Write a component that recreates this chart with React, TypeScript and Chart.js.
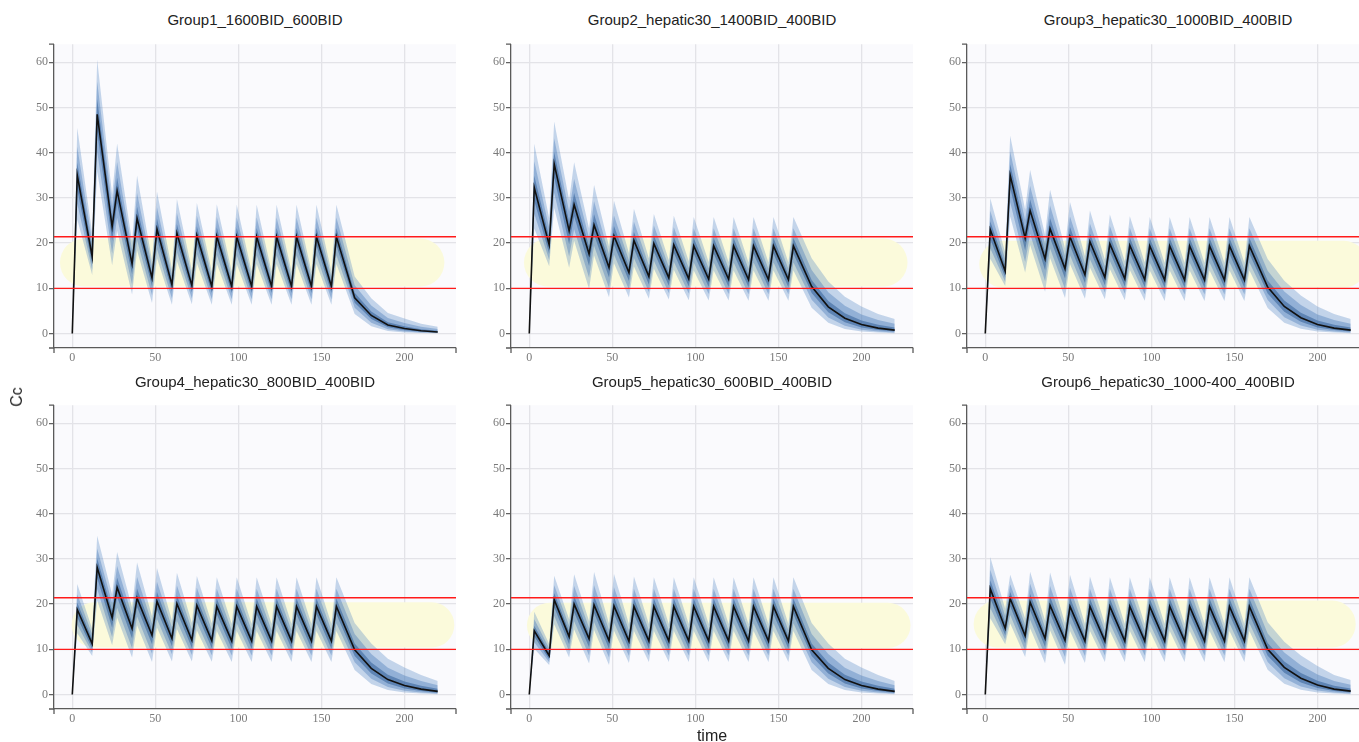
import React, { useEffect, useRef } from "react";
import { Chart, registerables } from "chart.js";

Chart.register(...registerables);

// ---------- data ----------
const TITLES = [
  "Group1_1600BID_600BID",
  "Group2_hepatic30_1400BID_400BID",
  "Group3_hepatic30_1000BID_400BID",
  "Group4_hepatic30_800BID_400BID",
  "Group5_hepatic30_600BID_400BID",
  "Group6_hepatic30_1000-400_400BID",
];

const TIMES = [0, 3, 12, 15, 24, 27, 36, 39, 48, 51, 60, 63, 72, 75, 84, 87, 96, 99, 108, 111, 120, 123, 132, 135, 144, 147, 156, 159, 170, 180, 190, 200, 210, 220];

const MEDIAN_G1 = [0, 35.0, 17.0, 48.5, 23.6, 31.6, 15.4, 25.5, 12.3, 23.1, 10.8, 22.2, 10.6, 21.7, 10.4, 21.5, 10.4, 21.4, 10.4, 21.4, 10.4, 21.4, 10.4, 21.4, 10.4, 21.4, 10.4, 21.4, 7.9, 4.0, 1.9, 1.1, 0.6, 0.35];
const MEDIAN_G2 = [0, 32.3, 19.6, 37.5, 22.7, 28.5, 17.6, 24.0, 14.6, 21.6, 13.5, 20.6, 12.6, 19.9, 12.3, 19.6, 12.1, 19.4, 12.0, 19.4, 12.0, 19.4, 11.9, 19.4, 11.9, 19.4, 11.9, 19.4, 10.4, 5.9, 3.4, 2.0, 1.2, 0.75];
const MEDIAN_G3 = [0, 23.0, 13.8, 35.0, 21.1, 27.2, 16.5, 23.2, 14.3, 21.4, 13.0, 20.3, 12.4, 19.8, 12.1, 19.5, 11.9, 19.4, 11.8, 19.4, 11.8, 19.4, 11.8, 19.4, 11.8, 19.4, 11.8, 19.4, 10.3, 6.0, 3.5, 2.0, 1.2, 0.75];
const MEDIAN_G4 = [0, 18.8, 11.2, 28.1, 17.0, 23.7, 14.6, 21.3, 13.1, 20.6, 12.4, 20.1, 12.0, 19.7, 11.9, 19.5, 11.8, 19.5, 11.8, 19.5, 11.8, 19.5, 11.8, 19.5, 11.8, 19.5, 11.8, 19.5, 9.9, 5.8, 3.3, 2.0, 1.2, 0.7];
const MEDIAN_G5 = [0, 14.1, 8.6, 21.0, 12.8, 20.0, 12.3, 19.8, 11.9, 19.6, 11.8, 19.5, 11.8, 19.5, 11.8, 19.5, 11.8, 19.5, 11.8, 19.5, 11.8, 19.5, 11.8, 19.5, 11.8, 19.5, 11.8, 19.5, 9.9, 5.8, 3.3, 2.0, 1.2, 0.7];
const MEDIAN_G6 = [0, 23.4, 14.6, 21.2, 13.0, 20.4, 12.4, 19.7, 12.0, 19.5, 11.8, 19.5, 11.8, 19.5, 11.8, 19.5, 11.8, 19.5, 11.8, 19.5, 11.8, 19.5, 11.8, 19.5, 11.8, 19.5, 11.8, 19.5, 10.0, 6.0, 3.6, 2.1, 1.2, 0.75];

// prediction-interval bounds relative to the median
const OUTER_HI = [1, 1.30, 1.3, 1.25, 1.3, 1.33, 1.32, 1.37, 1.32, 1.36, 1.32, 1.34, 1.32, 1.33, 1.32, 1.33, 1.32, 1.33, 1.32, 1.33, 1.32, 1.33, 1.32, 1.33, 1.32, 1.33, 1.32, 1.33, 1.6, 1.95, 2.4, 3.0, 3.6, 4.3];
const MID_HI = [1, 1.18, 1.19, 1.15, 1.19, 1.2, 1.2, 1.22, 1.2, 1.21, 1.2, 1.2, 1.2, 1.2, 1.2, 1.2, 1.2, 1.2, 1.2, 1.2, 1.2, 1.2, 1.2, 1.2, 1.2, 1.2, 1.2, 1.2, 1.35, 1.55, 1.8, 2.1, 2.5, 2.9];
const INNER_HI = [1, 1.08, 1.09, 1.07, 1.09, 1.09, 1.09, 1.1, 1.09, 1.1, 1.09, 1.09, 1.09, 1.09, 1.09, 1.09, 1.09, 1.09, 1.09, 1.09, 1.09, 1.09, 1.09, 1.09, 1.09, 1.09, 1.09, 1.09, 1.14, 1.22, 1.32, 1.45, 1.6, 1.8];
const INNER_LO = [1, 0.91, 0.9, 0.92, 0.87, 0.91, 0.85, 0.91, 0.85, 0.91, 0.86, 0.91, 0.86, 0.91, 0.86, 0.91, 0.86, 0.91, 0.86, 0.91, 0.86, 0.91, 0.86, 0.91, 0.86, 0.91, 0.86, 0.91, 0.86, 0.8, 0.74, 0.68, 0.63, 0.58];
const MID_LO = [1, 0.82, 0.83, 0.83, 0.75, 0.81, 0.7, 0.81, 0.69, 0.81, 0.72, 0.81, 0.73, 0.81, 0.73, 0.81, 0.73, 0.81, 0.73, 0.81, 0.73, 0.81, 0.73, 0.81, 0.73, 0.81, 0.73, 0.81, 0.72, 0.6, 0.5, 0.42, 0.36, 0.3];
const OUTER_LO = [1, 0.72, 0.76, 0.74, 0.64, 0.72, 0.56, 0.72, 0.55, 0.72, 0.59, 0.72, 0.61, 0.72, 0.61, 0.72, 0.61, 0.72, 0.61, 0.72, 0.61, 0.72, 0.61, 0.72, 0.61, 0.72, 0.61, 0.72, 0.55, 0.4, 0.3, 0.22, 0.17, 0.12];

const MEDIANS = [MEDIAN_G1, MEDIAN_G2, MEDIAN_G3, MEDIAN_G4, MEDIAN_G5, MEDIAN_G6];

// target window (yellow) per panel: [x start, x end] and [low, high]
const TARGET_X = [[-7.4, 224], [-3.2, 227.7], [-3.6, 230], [-0.4, 230], [-1.4, 229.5], [-7.0, 223]];
const TARGET_Y = [[10.4, 21.0], [10.4, 21.0], [10.2, 20.5], [10.4, 20.4], [10.3, 20.3], [10.4, 20.8]];
const THRESHOLDS = [10, 21.4];

const X_TICKS = [0, 50, 100, 150, 200];
const Y_TICKS = [0, 10, 20, 30, 40, 50, 60];
const X_RANGE = [-11, 231];
const Y_RANGE = [-3.2, 64];

// ---------- layout / style ----------
const COL_LEFT = [54, 511, 967];
const ROW_TOP = [42, 403];
const PLOT_W = 402;
const PLOT_H = 306;
const AXIS_W = 40;
const AXIS_H = 30;
const PAD_T = 6;
const PAD_R = 8;
const CW = AXIS_W + PLOT_W + PAD_R;
const CH = PAD_T + PLOT_H + AXIS_H;
const TITLE_TOP = [10, 372];

const PLOT_BG = "#fafafd";
const GRID = "#e3e3e8";
const AXIS_COLOR = "#5a5a5a";
const YELLOW = "#fbfadb";
const RED = "#ff1a1a";
const MEDIAN_COLOR = "#111111";
const OUTER_FILL = "rgba(80,135,195,0.32)";
const MID_FILL = "rgba(60,115,180,0.36)";
const INNER_FILL = "rgba(30,80,140,0.45)";
const TICK_FONT = { family: '"Liberation Serif", "Times New Roman", serif', size: 12 };

function makePlugin(idx: number) {
  return {
    id: "decor" + idx,
    beforeDraw(chart: any) {
      const { ctx, chartArea: a } = chart;
      ctx.save();
      ctx.fillStyle = PLOT_BG;
      ctx.fillRect(a.left, a.top, a.right - a.left, a.bottom - a.top);
      ctx.restore();
    },
    beforeDatasetsDraw(chart: any) {
      const { ctx, chartArea: a, scales } = chart;
      const x0 = scales.x.getPixelForValue(TARGET_X[idx][0]);
      const x1 = scales.x.getPixelForValue(TARGET_X[idx][1]);
      const yTop = scales.y.getPixelForValue(TARGET_Y[idx][1]);
      const yBot = scales.y.getPixelForValue(TARGET_Y[idx][0]);
      const h = yBot - yTop;
      ctx.save();
      ctx.beginPath();
      ctx.rect(a.left, a.top, a.right - a.left, a.bottom - a.top);
      ctx.clip();
      ctx.fillStyle = YELLOW;
      ctx.beginPath();
      (ctx as any).roundRect(x0, yTop, x1 - x0, h, h / 2);
      ctx.fill();
      ctx.restore();
    },
    afterDatasetsDraw(chart: any) {
      const { ctx, chartArea: a, scales } = chart;
      ctx.save();
      ctx.strokeStyle = RED;
      ctx.lineWidth = 1.4;
      THRESHOLDS.forEach((v) => {
        const y = scales.y.getPixelForValue(v);
        ctx.beginPath();
        ctx.moveTo(a.left, y);
        ctx.lineTo(a.right, y);
        ctx.stroke();
      });
      ctx.restore();
    },
    afterDraw(chart: any) {
      const { ctx, chartArea: a } = chart;
      ctx.save();
      ctx.strokeStyle = AXIS_COLOR;
      ctx.lineWidth = 1.3;
      ctx.beginPath();
      ctx.moveTo(a.left - 5, a.top);
      ctx.lineTo(a.left, a.top);
      ctx.moveTo(a.left - 5, a.bottom);
      ctx.lineTo(a.left, a.bottom);
      ctx.moveTo(a.left, a.bottom);
      ctx.lineTo(a.left, a.bottom + 5);
      ctx.moveTo(a.right, a.bottom);
      ctx.lineTo(a.right, a.bottom + 5);
      ctx.stroke();
      ctx.restore();
    },
  };
}

function buildConfig(idx: number): any {
  const med = MEDIANS[idx];
  const pts = (r: number[] | null) =>
    TIMES.map((t, i) => ({ x: t, y: r ? med[i] * r[i] : med[i] }));
  const band = (r: number[], fillTo: any, color: string) => ({
    data: pts(r),
    borderColor: "rgba(0,0,0,0)",
    borderWidth: 0,
    pointRadius: 0,
    fill: fillTo,
    backgroundColor: color,
    tension: 0,
  });
  return {
    type: "line",
    data: {
      datasets: [
        { data: pts(null), borderColor: MEDIAN_COLOR, borderWidth: 1.6, pointRadius: 0, fill: false, tension: 0 },
        band(INNER_HI, "+1", INNER_FILL),
        band(INNER_LO, false, INNER_FILL),
        band(MID_HI, "+1", MID_FILL),
        band(MID_LO, false, MID_FILL),
        band(OUTER_HI, "+1", OUTER_FILL),
        band(OUTER_LO, false, OUTER_FILL),
      ],
    },
    options: {
      animation: false,
      responsive: false,
      maintainAspectRatio: false,
      devicePixelRatio: 1,
      events: [],
      layout: { padding: { top: PAD_T, right: PAD_R, left: 0, bottom: 0 } },
      plugins: {
        legend: { display: false },
        tooltip: { enabled: false },
        title: { display: false },
        filler: { drawTime: "beforeDatasetDraw", propagate: false },
      },
      scales: {
        x: {
          type: "linear",
          min: X_RANGE[0],
          max: X_RANGE[1],
          afterBuildTicks: (s: any) => {
            s.ticks = X_TICKS.map((v) => ({ value: v }));
          },
          afterFit: (s: any) => {
            s.height = AXIS_H;
          },
          grid: { color: GRID, lineWidth: 1.3, drawTicks: false },
          border: { display: true, color: AXIS_COLOR, width: 1.3 },
          ticks: { font: TICK_FONT, color: "#7a7a7a", padding: 3, maxRotation: 0, autoSkip: false },
        },
        y: {
          type: "linear",
          min: Y_RANGE[0],
          max: Y_RANGE[1],
          afterBuildTicks: (s: any) => {
            s.ticks = Y_TICKS.map((v) => ({ value: v }));
          },
          afterFit: (s: any) => {
            s.width = AXIS_W;
          },
          grid: { color: GRID, lineWidth: 1.3, drawTicks: true, tickLength: 5, tickColor: AXIS_COLOR, tickWidth: 1.2 },
          border: { display: true, color: AXIS_COLOR, width: 1.3 },
          ticks: { font: TICK_FONT, color: "#7a7a7a", padding: 1, autoSkip: false },
        },
      },
    },
    plugins: [makePlugin(idx)],
  };
}

function Panel({ idx }: { idx: number }) {
  const ref = useRef<HTMLCanvasElement>(null);
  useEffect(() => {
    const chart = new Chart(ref.current as HTMLCanvasElement, buildConfig(idx));
    return () => chart.destroy();
  }, [idx]);
  const col = idx % 3;
  const row = Math.floor(idx / 3);
  return (
    <>
      <canvas
        ref={ref}
        width={CW}
        height={CH}
        style={{ position: "absolute", left: COL_LEFT[col] - AXIS_W, top: ROW_TOP[row] - PAD_T, width: CW, height: CH }}
      />
      <div
        style={{
          position: "absolute",
          left: COL_LEFT[col],
          width: PLOT_W,
          top: TITLE_TOP[row],
          textAlign: "center",
          font: '15px "Liberation Sans", Arial, sans-serif',
          lineHeight: "20px",
          color: "#222",
          whiteSpace: "nowrap",
        }}
      >
        {TITLES[idx]}
      </div>
    </>
  );
}

export default function App() {
  return (
    <div
      style={{
        position: "absolute",
        left: 0,
        top: 0,
        width: 1359,
        height: 742,
        overflow: "hidden",
        background: "#ffffff",
      }}
    >
      {TITLES.map((_, i) => (
        <Panel key={i} idx={i} />
      ))}
      <div
        style={{
          position: "absolute",
          left: 16.5,
          top: 397,
          transform: "translate(-50%, -50%) rotate(-90deg)",
          font: '16px "Liberation Sans", Arial, sans-serif',
          color: "#222",
          whiteSpace: "nowrap",
        }}
      >
        Cc
      </div>
      <div
        style={{
          position: "absolute",
          left: 511,
          width: PLOT_W,
          top: 726,
          textAlign: "center",
          font: '16px "Liberation Sans", Arial, sans-serif',
          lineHeight: "20px",
          color: "#222",
        }}
      >
        time
      </div>
    </div>
  );
}
